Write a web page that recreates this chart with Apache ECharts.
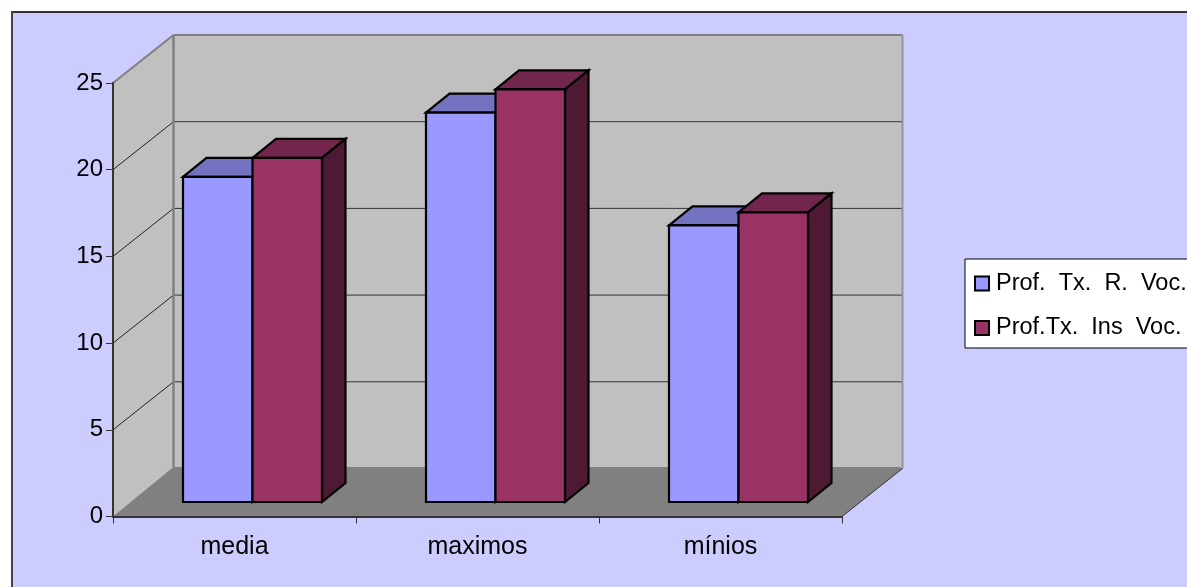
<!DOCTYPE html>
<html>
<head>
<meta charset="utf-8">
<style>
  html, body { margin: 0; padding: 0; background: #fff; overflow: hidden; }
  #chart { width: 1187px; height: 587px; }
</style>
<script src="https://cdn.jsdelivr.net/npm/echarts@6/dist/echarts.min.js"></script>
</head>
<body>
<div id="chart"></div>
<script>
const categories = ['media', 'maximos', 'mínios'];
const seriesNames = ['Prof.  Tx.  R.  Voc.', 'Prof.Tx.  Ins  Voc.'];
const profTxR = [18.75, 22.45, 15.95];
const profTxIns = [19.85, 23.8, 16.7];
const axisTicks = [5, 10, 15, 20];

const FONT = '"Liberation Sans", Arial, sans-serif';

// Oblique projection of the 3D box: how far the back wall sits from the front plane.
const WALL_DX = 60.5, WALL_DY = -48;
// Bars stand inside the box: their front face is pushed back, and they have their own depth.
const BAR_DX = 18, BAR_DY = -14.5, BAR_DEPTH_X = 23.5, BAR_DEPTH_Y = -19;
const BAR_BAND_SHARE = 0.286;

function poly(points, fill, stroke, lineWidth, z2) {
  return {
    type: 'polygon', z2: z2 || 0,
    shape: { points },
    style: { fill: fill || 'none', stroke: stroke || 'none', lineWidth: lineWidth || 0, lineJoin: 'miter' }
  };
}
function seg(a, b, stroke, lineWidth, z2) {
  return {
    type: 'line', z2: z2 || 0,
    shape: { x1: a[0], y1: a[1], x2: b[0], y2: b[1] },
    style: { stroke, lineWidth }
  };
}

// Side wall, back wall, floor and the gridlines that wrap around them.
function renderBox(params, api) {
  const cs = params.coordSys;
  const l = cs.x, r = cs.x + cs.width, t = api.coord([0, 25])[1], b = api.coord([0, 0])[1];
  const bl = l + WALL_DX, br = r + WALL_DX, bt = t + WALL_DY, bb = b + WALL_DY;
  const children = [
    poly([[bl, bt], [br, bt], [br, bb], [bl, bb]], '#C0C0C0'),
    poly([[l, t], [bl, bt], [bl, bb], [l, b]], '#C0C0C0'),
    poly([[l, b], [r, b], [br, bb], [br - 3, bb - 1.5], [bl, bb - 1.5]], '#808080', null, 0, 2),
    seg([l, t], [bl, bt], '#808080', 2, 3),
    seg([bl, bb - 1.5], [bl, bt], '#808080', 2.5, 3),
    seg([bl, bt], [br, bt], '#808080', 2, 3),
    seg([br, bt], [br, bb], '#969696', 2, 3),
    seg([r, b], [br, bb], '#333333', 1, 3)
  ];
  axisTicks.forEach(function (v) {
    const y = api.coord([0, v])[1];
    children.push(seg([l, y], [bl, y + WALL_DY], '#222222', 1, 1));
    children.push(seg([bl, y + WALL_DY], [br, y + WALL_DY], '#333333', 1, 1));
  });
  return { type: 'group', children };
}

function barRenderer(side, front, top, flank) {
  return function (params, api) {
    const cat = api.value(0), val = api.value(1);
    const w = api.size([1, 0])[0] * BAR_BAND_SHARE;
    const cx = api.coord([cat, 0])[0] + BAR_DX;
    const x0 = side === 0 ? cx - w : cx, x1 = x0 + w;
    const y0 = api.coord([cat, 0])[1] + BAR_DY;
    const y1 = api.coord([cat, val])[1] + BAR_DY;
    const dx = BAR_DEPTH_X, dy = BAR_DEPTH_Y;
    const ink = '#000000';
    return {
      type: 'group',
      children: [
        poly([[x0, y1], [x0 + dx, y1 + dy], [x1 + dx, y1 + dy], [x1, y1]], top, ink, 2.2),
        poly([[x1, y1], [x1 + dx, y1 + dy], [x1 + dx, y0 + dy], [x1, y0]], flank, ink, 2.2),
        poly([[x0, y1], [x1, y1], [x1, y0], [x0, y0]], front, ink, 2.2)
      ]
    };
  };
}

const chart = echarts.init(document.getElementById('chart'), null, { renderer: 'canvas' });
chart.setOption({
  animation: false,
  backgroundColor: '#ffffff',
  textStyle: { fontFamily: FONT },
  graphic: [{
    type: 'rect', z: -10, silent: true,
    shape: { x: 12, y: 12, width: 1300, height: 700 },
    style: { fill: '#CCCCFF', stroke: '#333333', lineWidth: 1.8 }
  }],
  grid: { left: 113, top: 83, width: 729, height: 433.5, containLabel: false },
  legend: {
    show: true,
    orient: 'vertical',
    left: 965, top: 259,
    padding: [12.5, 10, 8, 9],
    backgroundColor: '#ffffff',
    borderColor: '#000000',
    borderWidth: 1,
    itemWidth: 14, itemHeight: 14, itemGap: 20.5,
    icon: 'rect',
    itemStyle: { borderColor: '#000000', borderWidth: 2 },
    textStyle: { fontFamily: FONT, fontSize: 23.5, color: '#000000', padding: [0, 0, 4, 2] },
    data: seriesNames
  },
  xAxis: {
    type: 'category',
    data: categories,
    z: 3,
    axisLine: { show: true, lineStyle: { color: '#333333', width: 2 } },
    axisTick: { show: true, length: 7, lineStyle: { color: '#333333', width: 1 } },
    axisLabel: { color: '#000000', fontFamily: FONT, fontSize: 25, margin: 18 },
    splitLine: { show: false }
  },
  yAxis: {
    type: 'value',
    min: 0, max: 25, interval: 5,
    z: 3,
    axisLine: { show: true, lineStyle: { color: '#333333', width: 2 } },
    axisTick: { show: true, length: 7, lineStyle: { color: '#333333', width: 1 } },
    axisLabel: { color: '#000000', fontFamily: FONT, fontSize: 24, margin: 10 },
    splitLine: { show: false }
  },
  series: [
    {
      type: 'custom', name: '__box', z: 0, silent: true,
      renderItem: renderBox,
      data: [[0, 0]],
      encode: { x: 0, y: 1 }
    },
    {
      type: 'custom', name: seriesNames[0], z: 4,
      itemStyle: { color: '#9999FF' },
      renderItem: barRenderer(0, '#9999FF', '#7373BF', '#4D4D80'),
      data: profTxR.map(function (v, i) { return [i, v]; }),
      encode: { x: 0, y: 1 }
    },
    {
      type: 'custom', name: seriesNames[1], z: 5,
      itemStyle: { color: '#993366' },
      renderItem: barRenderer(1, '#993366', '#73264D', '#4D1933'),
      data: profTxIns.map(function (v, i) { return [i, v]; }),
      encode: { x: 0, y: 1 }
    }
  ]
});
</script>
</body>
</html>
